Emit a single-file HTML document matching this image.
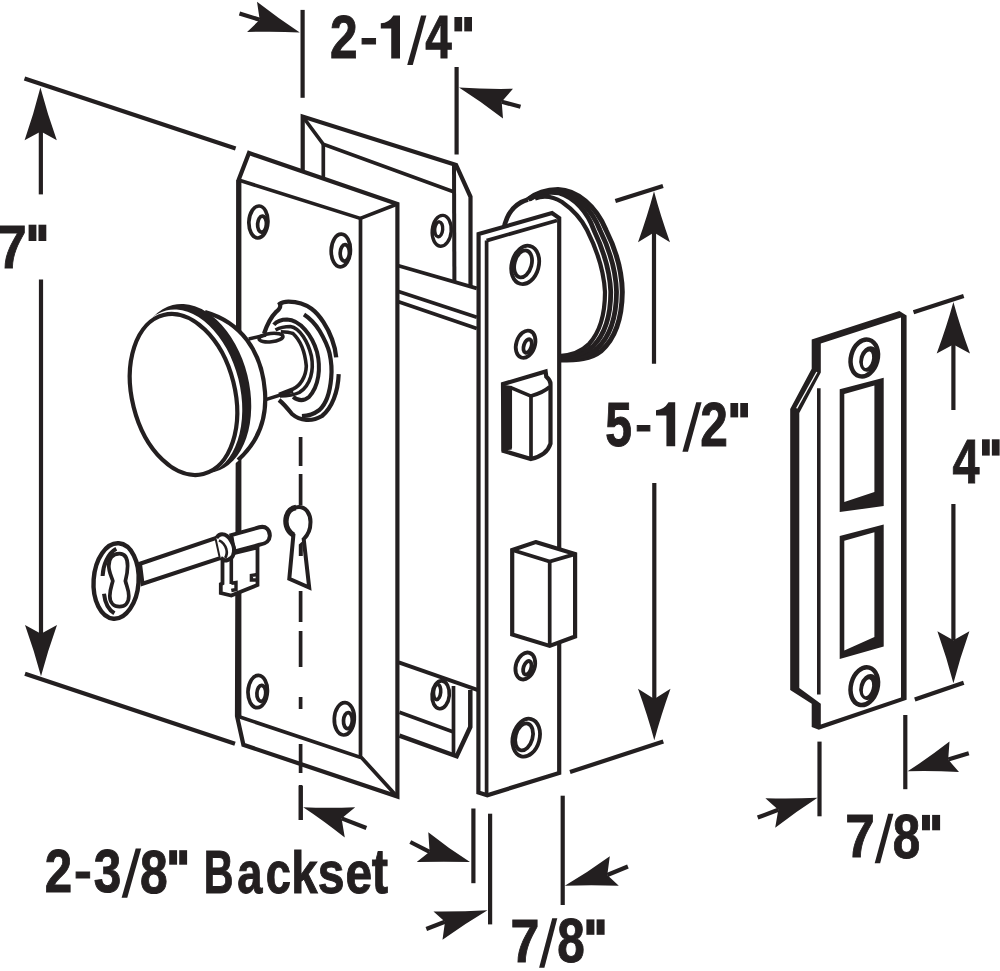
<!DOCTYPE html>
<html><head><meta charset="utf-8"><style>
html,body{margin:0;padding:0;background:#fff;overflow:hidden;}
svg{display:block;}
text{font-family:"Liberation Sans",sans-serif;font-weight:bold;}
</style></head><body>
<svg width="1000" height="971" viewBox="0 0 1000 971" stroke="#231f20" fill="none" stroke-linejoin="miter" stroke-linecap="butt">
<path d="M503.7,229 C507,212 516,203 528,199.5 C536,193 546,189.5 558,189.5 C577,190 596,206 606,230 C617,252 622,272 622.3,292 C622,318 616,338 601,351 C591,359 578,360 559,360 L559,362 L540,300 Z" fill="#fff" stroke-width="0" stroke="none"/>
<path d="M503.7,229 C507,212 516,203 528,199.5" fill="none" stroke-width="4.6" />
<path d="M528,199.5 C536,193 546,189.5 558,189.5 C577,190 596,206 606,230 C617,252 622,272 622.3,292 C622,318 616,338 601,351 C591,359 578,360 559,360" fill="none" stroke-width="5.0" />
<path d="M528.56,199.42 C536.56,193.2 546.7,190.2 558.56,191.25 C576,193.8 591.8,209.36 599.92,230 C610.33,251.33 616,272 616.53,292 C616.33,317 610.67,336 597,348.67 C587.67,356.67 576,358.5 559,358.67" fill="none" stroke-width="4.8" />
<path d="M529.4,199.3 C537.4,193.5 547.54,191.04 559.12,193 C575,197.6 587.75,212.6 593.84,230 C603.67,250.67 610,272 610.77,292 C610.67,316 605.33,334 593,346.33 C584.33,354.33 574,357 559,357.33" fill="none" stroke-width="4.8" />
<path d="M535,198.5 C543,195.5 553,196.5 562,202 C572,209 581,218 587,230 C597,250 604,272 605,292 C605,315 600,332 589,344 C581,352 572,355.5 559,356" fill="none" stroke-width="4.2" />
<polygon points="302.7,116.5 456.1,164.9 470.5,196.8 470.5,760 399,760 399,171 302.7,171" fill="#fff" stroke-width="3.4" stroke="none"/>
<polyline points="302.7,172 302.7,116.5 456.1,164.9 470.5,196.8 470.5,290" fill="none" stroke-width="4.2" />
<polyline points="302.7,116.5 323.3,144.3 453.5,191.8" fill="none" stroke-width="3.7" />
<line x1="454" y1="165" x2="454.4" y2="282" stroke-width="4.0" stroke-linecap="butt"/>
<line x1="323.3" y1="144.3" x2="323.3" y2="181" stroke-width="3.7" stroke-linecap="butt"/>
<ellipse cx="441.7" cy="230.8" rx="9.5" ry="15.5" transform="rotate(5 441.7 230.8)" fill="#fff" stroke-width="3.4" />
<ellipse cx="438.7" cy="229.3" rx="4" ry="7.5" transform="rotate(5 438.7 229.3)" fill="#fff" stroke-width="3.4" />
<polyline points="399.4,735.7 456.7,756.3 470.3,727 470.3,690" fill="none" stroke-width="4.5" />
<polyline points="399.4,712.3 453.5,732" fill="none" stroke-width="3.7" />
<line x1="453.5" y1="686" x2="453.5" y2="755" stroke-width="3.7" stroke-linecap="butt"/>
<ellipse cx="440.7" cy="694.8" rx="8.6" ry="14" transform="rotate(5 440.7 694.8)" fill="#fff" stroke-width="3.6" />
<ellipse cx="437.1" cy="692" rx="3.6" ry="7.6" transform="rotate(5 437.1 692)" fill="#fff" stroke-width="3.6" />
<polygon points="398.5,265.7 476.8,288.4 480.2,690.8 398.7,662.4" fill="#fff" stroke-width="3.4" stroke="none"/>
<line x1="398.5" y1="265.7" x2="476.8" y2="288.4" stroke-width="3.7" stroke-linecap="butt"/>
<line x1="398.5" y1="291.5" x2="476.8" y2="317.2" stroke-width="3.7" stroke-linecap="butt"/>
<line x1="398.5" y1="301.8" x2="476.8" y2="328.6" stroke-width="3.7" stroke-linecap="butt"/>
<line x1="398.7" y1="662.4" x2="480.2" y2="690.8" stroke-width="4.0" stroke-linecap="butt"/>
<polygon points="478.6,234.1 552,213 559.2,218.1 559.2,773 487.3,795.2 478.4,792.4" fill="#fff" stroke-width="4.2" />
<line x1="486.6" y1="240.6" x2="486.6" y2="795" stroke-width="3.7" stroke-linecap="butt"/>
<line x1="486.6" y1="240.6" x2="557" y2="220.5" stroke-width="3.7" stroke-linecap="butt"/>
<ellipse cx="525.2" cy="264.9" rx="13.5" ry="19.5" transform="rotate(15 525.2 264.9)" fill="#fff" stroke-width="3.8" />
<ellipse cx="523.1" cy="263.9" rx="8.5" ry="13.8" transform="rotate(15 523.1 263.9)" fill="#fff" stroke-width="3.8" />
<ellipse cx="525.6" cy="344.2" rx="9.3" ry="14" transform="rotate(18 525.6 344.2)" fill="#fff" stroke-width="3.8" />
<ellipse cx="527.6" cy="346" rx="3.8" ry="7" transform="rotate(18 527.6 346)" fill="#fff" stroke-width="3.8" />
<ellipse cx="525.3" cy="666" rx="9.4" ry="13.8" transform="rotate(18 525.3 666)" fill="#fff" stroke-width="3.8" />
<ellipse cx="527.3" cy="667.8" rx="3.8" ry="7" transform="rotate(18 527.3 667.8)" fill="#fff" stroke-width="3.8" />
<ellipse cx="526.2" cy="737.7" rx="13.3" ry="19.3" transform="rotate(15 526.2 737.7)" fill="#fff" stroke-width="3.8" />
<ellipse cx="524.1" cy="736.9" rx="8.5" ry="13.8" transform="rotate(15 524.1 736.9)" fill="#fff" stroke-width="3.8" />
<path d="M503,384.1 L545.6,371.4 L546.3,376.7 C549,379 550.5,381 550.5,384 L550.5,443.7 C548,452 540,457 531,459 L503.5,451 Z" fill="#fff" stroke-width="4.2" />
<path d="M510.2,387.4 L531,396.1 C538,394 545,391 549.5,387" fill="none" stroke-width="3.7" />
<line x1="510.2" y1="387.4" x2="510.2" y2="448" stroke-width="3.7" stroke-linecap="butt"/>
<line x1="531" y1="396.1" x2="531" y2="459" stroke-width="3.7" stroke-linecap="butt"/>
<polygon points="501.5,384.5 511.8,386 511.8,449.5 501.5,451" fill="#231f20" stroke="none"/>
<polygon points="535.6,542.1 575.1,554.1 575.1,636.5 549.7,645.9 512.2,634.5 512.2,550.1" fill="#fff" stroke-width="4.2" />
<polyline points="512.2,550.1 549.7,561.5 575.1,554.1" fill="none" stroke-width="3.7" />
<line x1="549.7" y1="561.5" x2="549.7" y2="645.9" stroke-width="3.7" stroke-linecap="butt"/>
<polygon points="249,153 397.4,204 397.4,796.5 243.4,744.8 237,716 238.6,180" fill="#fff" stroke-width="4.2" />
<line x1="238.8" y1="180" x2="238.8" y2="716" stroke-width="5.2" stroke-linecap="butt"/>
<polyline points="238.6,180 360.3,218.4 397.4,204" fill="none" stroke-width="3.7" />
<line x1="360.5" y1="218.4" x2="360.5" y2="757.8" stroke-width="3.7" stroke-linecap="butt"/>
<polyline points="237,716 361.7,757.8 397,796.5" fill="none" stroke-width="3.7" />
<ellipse cx="258.4" cy="222" rx="9.5" ry="16" transform="rotate(3 258.4 222)" fill="#fff" stroke-width="3.7" />
<ellipse cx="262" cy="224.2" rx="4.4" ry="8" transform="rotate(3 262 224.2)" fill="#fff" stroke-width="3.7" />
<ellipse cx="340.8" cy="250.5" rx="9.6" ry="16.3" transform="rotate(2 340.8 250.5)" fill="#fff" stroke-width="3.7" />
<ellipse cx="344.8" cy="252.9" rx="4.6" ry="8.2" transform="rotate(2 344.8 252.9)" fill="#fff" stroke-width="3.7" />
<ellipse cx="257.7" cy="691.5" rx="9.7" ry="16.2" transform="rotate(3 257.7 691.5)" fill="#fff" stroke-width="3.7" />
<ellipse cx="261.3" cy="693.3" rx="4.4" ry="8" transform="rotate(3 261.3 693.3)" fill="#fff" stroke-width="3.7" />
<ellipse cx="344.3" cy="718.8" rx="10" ry="16.2" transform="rotate(3 344.3 718.8)" fill="#fff" stroke-width="3.7" />
<ellipse cx="347.9" cy="720.6" rx="4.4" ry="8" transform="rotate(3 347.9 720.6)" fill="#fff" stroke-width="3.7" />
<line x1="300.6" y1="437" x2="300.6" y2="466" stroke-width="3.7" stroke-linecap="butt"/>
<line x1="300.6" y1="474" x2="300.6" y2="505" stroke-width="3.7" stroke-linecap="butt"/>
<line x1="300.6" y1="591" x2="300.6" y2="622" stroke-width="3.7" stroke-linecap="butt"/>
<line x1="300.6" y1="631" x2="300.6" y2="667" stroke-width="3.7" stroke-linecap="butt"/>
<line x1="300.6" y1="697" x2="300.6" y2="709" stroke-width="3.7" stroke-linecap="butt"/>
<line x1="300.6" y1="744" x2="300.6" y2="773" stroke-width="3.7" stroke-linecap="butt"/>
<line x1="300.6" y1="785" x2="300.6" y2="820" stroke-width="3.7" stroke-linecap="butt"/>
<path d="M293.4,535 C286,530 285,522 286.7,516 C288,510 293,507 299,507 C306,507 310.5,514 310.5,522 C310.5,530 307,536 303.7,539.1 L309.2,587.5 L289.3,578.8 Z" fill="#fff" stroke-width="4" />
<path d="M293.4,535 C286,530 285,522 286.7,516 C288,511 292,508 296,507.5" fill="none" stroke-width="5.5" />
<polygon points="302.8,541 298.8,544.5 298.8,556 302.8,556" fill="#231f20" stroke="none"/>
<path d="M264.1,333.5 C268,322 272,316 276,312 C280,309 281,306 279.9,303.8 C283,301.5 286,301.6 288.6,301.6 C298,301.8 305,304 311.5,308.7 C320,315 328,328 332,339.2 C334.5,346 335.8,352 336.2,357.3 L338.7,374.2 C338,392 332,408 322,416 C312,422 300,421 292,414 C288,409 284,404 279,400 Z" fill="#fff" stroke-width="0" stroke="none"/>
<path d="M264.1,333.5 C268,322 272,316 276,312 C280,309 281,306 279.9,303.8 C283,301.5 286,301.6 288.6,301.6 C298,301.8 305,304 311.5,308.7 C320,315 328,328 332,339.2 C334.5,346 335.8,352 336.2,357.3" fill="none" stroke-width="4.3" />
<path d="M304,314.5 C311,319 316,325 319.7,331 C325,340 328,347 329.5,353 C331.5,362 331.8,372 331.2,378 C330,392 326,404 319.4,410 C314,414 308,416 301.9,416.2" fill="none" stroke-width="4.2" />
<path d="M338.7,374.2 C338,392 332,408 322,416 C312,422 300,421 292,414 C288,409 284,404 279,400" fill="none" stroke-width="4.2" />
<path d="M273.8,324.8 C278,320 283,319.5 287,319.5 C300,320 312,335 317,352 C321,368 319,386 309,397 C303,402 297,400 293.1,396.9" fill="none" stroke-width="4" />
<path d="M275.5,330 C281,327 286,326.5 290.4,326.5 C300,328 308,342 311.4,356 C314,370 311,385 299.3,392.5 C292,396 285,396 280,396" fill="none" stroke-width="3.6" />
<polygon points="248.7,339 264.4,335.2 283,333 300,345 306,366 300,384 293,389 265.7,399.4 250,420" fill="#fff" stroke-width="3.4" stroke="none"/>
<path d="M280.8,331.8 C286,332 290,332.5 293,333.5 C300,340 305,352 306.3,366 C306,377 300,386 293,389 L279,394.5" fill="none" stroke-width="3.6" />
<line x1="248.7" y1="339" x2="266" y2="335" stroke-width="3.4" stroke-linecap="butt"/>
<line x1="265.7" y1="399.6" x2="293" y2="391" stroke-width="3.6" stroke-linecap="butt"/>
<ellipse cx="271" cy="337.6" rx="12" ry="4.2" transform="rotate(-6 271 337.6)" fill="none" stroke-width="3.6" />
<path d="M205,312 C240,322 262,350 265,392 C267,425 255,448 232,466 L190,394 Z" fill="#fff" stroke-width="0" stroke="none"/>
<path d="M205,312 C240,322 262,350 265,392 C267,420 257,443 238,460" fill="none" stroke-width="4.2" />
<ellipse cx="193.5" cy="388.5" rx="55.5" ry="86" transform="rotate(-14 193.5 388.5)" fill="#231f20" stroke-width="0" stroke="none"/>
<ellipse cx="186.5" cy="392" rx="53.5" ry="84.1" transform="rotate(-14 186.5 392)" fill="#fff" stroke-width="0" stroke="none"/>
<ellipse cx="183.5" cy="394.5" rx="51.4" ry="82" transform="rotate(-14 183.5 394.5)" fill="#fff" stroke-width="4.2" />
<ellipse cx="116.1" cy="581" rx="22.5" ry="37.8" transform="rotate(4 116.1 581)" fill="#fff" stroke-width="4.4" />
<path d="M119.5,553.6 C112.5,553.6 108.8,558 108.8,566 C108.8,572 111.5,576.5 112.8,581 C111.5,586 109.8,590 109.8,596 C109.8,603 114,606.6 119.5,606.6 C125,606.6 128.8,603 128.8,596 C128.8,590 126.6,586 125.4,581 C126.6,576.5 127.6,572 127.6,566 C127.6,558 125.5,553.6 119.5,553.6 Z" fill="#fff" stroke-width="3.7" />
<path d="M116.3,548.7 C108,553 103,565 102.6,576" fill="none" stroke-width="4" />
<path d="M104,593.7 C105,603 109,610 114.4,613.3" fill="none" stroke-width="4" />
<path d="M222.5,556 L222.5,583.3 L220.8,584.2 L220.8,593 L231.3,595.6 L257.5,585 L257.5,547.4 Z" fill="#fff" stroke-width="3.8" />
<line x1="231.3" y1="558" x2="231.3" y2="584" stroke-width="3.6" stroke-linecap="butt"/>
<polyline points="257.5,574.5 251.4,575.4 251.4,580 257.5,580" fill="none" stroke-width="3.4" />
<polyline points="231.3,583.3 236,582.5 236,589.5 231.3,590.5" fill="none" stroke-width="3.4" />
<path d="M231.3,535.1 L259.3,527.3 C266,525.5 270,530 269.8,536 C269.5,541 265,544 259.3,544.8 L233.9,551.8 Z" fill="#fff" stroke-width="4" />
<polygon points="140,563.75 216.4,537.8 220.8,557.9 142.5,583.75" fill="#fff" stroke-width="4" />
<path d="M216.4,537.8 C218,535.5 220,534.3 222,534.3 C226,534.3 229,537 231.3,541.3 C233.5,545 234.3,550 233.9,552 C233.5,555 232.5,557 231,558 C229,560 227,560.5 224.5,560.5 L220.8,557.9 Z" fill="#fff" stroke-width="0" stroke="none"/>
<path d="M216.4,537.8 C218,535.5 220,534.3 222,534.3 C226,534.3 229,537 231.3,541.3 C233.5,545 234.3,550 233.9,552 C233.5,555 232.5,557 231,558 C229,560 227,560.5 224.5,560.5 L220.8,557.9" fill="none" stroke-width="4" />
<path d="M219,540.4 C222.5,542 225,545 226.3,549 C227.3,552.5 226.8,555.5 225.1,557.9" fill="none" stroke-width="2.6" />
<path d="M811.7,339.5 L899.4,310.9 L906.6,315.4 L906.6,699.8 L818.8,729.7 L811.7,727.1 L811.7,703.7 L790.2,690 L790.2,409 L811.7,368.7 Z" fill="#fff" stroke-width="0" stroke="none"/>
<path d="M811.7,339.5 L899.4,310.9 L906.6,315.4 L906.6,699.8 L818.8,729.7 L811.7,727.1 L811.7,703.7 L790.2,690 L790.2,409 L811.7,368.7 Z M820.8,343.5 L901,317.5 L901,697.4 L820.8,724.5 L820.8,703.7 L799.3,688 L799.3,412.9 L820.8,372.6 Z" fill="#231f20" stroke-width="0" stroke="none" fill-rule="evenodd"/>
<line x1="816.9" y1="372" x2="796.7" y2="408.4" stroke-width="1.3" stroke-linecap="butt"/>
<line x1="816.9" y1="372" x2="796.7" y2="408.4" stroke="#fff" stroke-width="1.3"/>
<line x1="818.8" y1="388.2" x2="818.8" y2="694.6" stroke-width="3.6" stroke-linecap="butt"/>
<path d="M839.7,389.3 L883.7,377.7 L883.7,506 L839.7,512.1 Z M844.3,394 L874.4,385.4 L874.4,492 L844.3,502.1 Z" fill="#231f20" stroke-width="0" stroke="none" fill-rule="evenodd"/>
<path d="M839.7,536 L883.7,524.5 L883.7,646.5 L839.7,658.9 Z M844.3,540.7 L874.4,532.2 L874.4,637 L844.3,650.4 Z" fill="#231f20" stroke-width="0" stroke="none" fill-rule="evenodd"/>
<ellipse cx="864.3" cy="358" rx="13.3" ry="18.8" transform="rotate(15 864.3 358)" fill="#fff" stroke-width="4.5" />
<ellipse cx="869" cy="359" rx="9.5" ry="13" transform="rotate(15 869 359)" fill="#231f20" stroke-width="0" stroke="none"/>
<ellipse cx="867.5" cy="359.8" rx="4.2" ry="8.5" transform="rotate(15 867.5 359.8)" fill="#fff" stroke-width="0" stroke="none"/>
<ellipse cx="864.3" cy="686.2" rx="13.3" ry="19.2" transform="rotate(15 864.3 686.2)" fill="#fff" stroke-width="4.5" />
<ellipse cx="869" cy="687" rx="9.5" ry="13.2" transform="rotate(15 869 687)" fill="#231f20" stroke-width="0" stroke="none"/>
<ellipse cx="867.5" cy="687.8" rx="4.2" ry="8.7" transform="rotate(15 867.5 687.8)" fill="#fff" stroke-width="0" stroke="none"/>
<line x1="24.5" y1="78.5" x2="235.6" y2="148.6" stroke-width="4.2" stroke-linecap="butt"/>
<path d="M40.4,87.5 Q33.96,113.12 24.6,140.3 Q32.73,135.95 40.85,131.6 Q48.83,135.95 56.8,140.3 Q47.16,113.12 40.4,87.5 Z" fill="#231f20" stroke="none"/>
<line x1="40.85" y1="131" x2="40.85" y2="194.4" stroke-width="4.2" stroke-linecap="butt"/>
<line x1="41" y1="279.6" x2="41" y2="634" stroke-width="4.2" stroke-linecap="butt"/>
<path d="M41,676.25 Q34.44,651.41 25,625 Q33,629.38 41,633.75 Q49,629.38 57,625 Q47.56,651.41 41,676.25 Z" fill="#231f20" stroke="none"/>
<line x1="25" y1="673.75" x2="235" y2="743.75" stroke-width="4.2" stroke-linecap="butt"/>
<line x1="302.6" y1="9.9" x2="302.6" y2="97.8" stroke-width="4.2" stroke-linecap="butt"/>
<path d="M299.8,32.4 Q278.64,18.72 257,1.8 Q258.35,10.8 259.7,19.8 Q253.4,25.9 247.1,32 Q274.58,31.1 299.8,32.4 Z" fill="#231f20" stroke="none"/>
<line x1="239.5" y1="13.5" x2="259.7" y2="19.8" stroke-width="4.2" stroke-linecap="butt"/>
<line x1="456.6" y1="67" x2="456.6" y2="154.5" stroke-width="4.2" stroke-linecap="butt"/>
<path d="M459,87.5 Q484.98,89.31 513,88.8 Q507.35,95.25 501.7,101.7 Q502.35,110.05 503,118.4 Q480.88,101.45 459,87.5 Z" fill="#231f20" stroke="none"/>
<line x1="501.7" y1="101.7" x2="520.5" y2="106.8" stroke-width="4.2" stroke-linecap="butt"/>
<line x1="615.4" y1="201" x2="663" y2="186" stroke-width="4.2" stroke-linecap="butt"/>
<path d="M654,191.2 Q647.44,215.82 638,242.2 Q646,237.3 654,232.4 Q662,237.3 670,242.2 Q660.56,215.82 654,191.2 Z" fill="#231f20" stroke="none"/>
<line x1="654" y1="232" x2="654" y2="363.7" stroke-width="4.2" stroke-linecap="butt"/>
<line x1="654.3" y1="483" x2="654.3" y2="699" stroke-width="4.2" stroke-linecap="butt"/>
<path d="M654.3,740.3 Q647.62,715.47 638,688.8 Q646.15,693.9 654.3,699 Q662.4,693.9 670.5,688.8 Q660.94,715.47 654.3,740.3 Z" fill="#231f20" stroke="none"/>
<line x1="570" y1="772" x2="663.3" y2="741.6" stroke-width="4.2" stroke-linecap="butt"/>
<line x1="913.5" y1="312.2" x2="963.7" y2="296" stroke-width="4.2" stroke-linecap="butt"/>
<path d="M953.4,301.9 Q946.55,326.84 936.7,353.4 Q945.05,348.9 953.4,344.4 Q961.7,348.9 970,353.4 Q960.21,326.84 953.4,301.9 Z" fill="#231f20" stroke="none"/>
<line x1="953.4" y1="344" x2="953.4" y2="410" stroke-width="4.2" stroke-linecap="butt"/>
<line x1="953.4" y1="504" x2="953.4" y2="640" stroke-width="4.2" stroke-linecap="butt"/>
<path d="M953.4,683.3 Q946.84,658.11 937.4,631.3 Q945.4,635.8 953.4,640.3 Q961.4,635.8 969.4,631.3 Q959.96,658.11 953.4,683.3 Z" fill="#231f20" stroke="none"/>
<line x1="914.8" y1="699.5" x2="963.7" y2="682.8" stroke-width="4.2" stroke-linecap="butt"/>
<line x1="819.5" y1="741.6" x2="819.5" y2="816.3" stroke-width="4.2" stroke-linecap="butt"/>
<line x1="905.3" y1="715" x2="905.3" y2="789.2" stroke-width="4.2" stroke-linecap="butt"/>
<path d="M817.5,797.7 Q792.61,798.99 765.4,798.2 Q771.85,804 778.3,809.8 Q776.75,818.8 775.2,827.8 Q796.63,811.13 817.5,797.7 Z" fill="#231f20" stroke="none"/>
<line x1="757.7" y1="817.5" x2="778.3" y2="809.8" stroke-width="4.2" stroke-linecap="butt"/>
<path d="M907.6,771.2 Q928.43,758.02 949.5,741.6 Q948.85,750.6 948.2,759.6 Q953.6,765.8 959,772 Q932.33,770.48 907.6,771.2 Z" fill="#231f20" stroke="none"/>
<line x1="948.2" y1="759.6" x2="968.8" y2="753.2" stroke-width="4.2" stroke-linecap="butt"/>
<line x1="300.8" y1="786" x2="300.8" y2="820" stroke-width="4.2" stroke-linecap="butt"/>
<path d="M303.2,807.2 Q327.98,808.21 355.2,807.2 Q348.4,812.8 341.6,818.4 Q343.2,828 344.8,837.6 Q323.71,820.67 303.2,807.2 Z" fill="#231f20" stroke="none"/>
<line x1="341.6" y1="818.4" x2="366.4" y2="828" stroke-width="4.2" stroke-linecap="butt"/>
<line x1="473.4" y1="808.5" x2="473.4" y2="883.2" stroke-width="4.2" stroke-linecap="butt"/>
<line x1="490.1" y1="813.7" x2="490.1" y2="924.4" stroke-width="4.2" stroke-linecap="butt"/>
<line x1="562.7" y1="795.7" x2="562.7" y2="905" stroke-width="4.2" stroke-linecap="butt"/>
<path d="M470,862.1 Q449.27,848.91 428.3,832.2 Q428.95,842 429.6,851.8 Q423.15,856.95 416.7,862.1 Q444.51,861.17 470,862.1 Z" fill="#231f20" stroke="none"/>
<line x1="410.3" y1="842" x2="429.6" y2="851.8" stroke-width="4.2" stroke-linecap="butt"/>
<path d="M487.5,910.2 Q461.54,911.78 433.5,911.5 Q439.25,916.65 445,921.8 Q443.75,930.8 442.5,939.8 Q465.23,923.38 487.5,910.2 Z" fill="#231f20" stroke="none"/>
<line x1="426.3" y1="929" x2="445" y2="921.8" stroke-width="4.2" stroke-linecap="butt"/>
<path d="M564.8,885.8 Q587.07,872.69 609.8,856.2 Q608.55,865.6 607.3,875 Q613.05,880.4 618.8,885.8 Q590.76,884.83 564.8,885.8 Z" fill="#231f20" stroke="none"/>
<line x1="607.3" y1="875" x2="627.9" y2="866.5" stroke-width="4.2" stroke-linecap="butt"/>
<text transform="translate(329.93 58.15) scale(0.02424 0.02958)" font-size="2048" fill="#231f20" stroke="#231f20" stroke-width="0.9" vector-effect="non-scaling-stroke">2</text>
<text transform="translate(359.97 52.97) scale(0.02596 0.02254)" font-size="2048" fill="#231f20" stroke="#231f20" stroke-width="0.9" vector-effect="non-scaling-stroke">-</text>
<path d="M393.36,15.4 L400,15.4 L400,58.6 L391.23,58.6 L391.23,28.4 L380.8,28.4 L380.8,23.31 Q388.86,22.74 393.36,15.4 Z" fill="#231f20" stroke="none"/>
<polygon points="407.2,65 412.77,65 426.4,15.4 421.02,15.4" fill="#231f20" stroke="none"/>
<text transform="translate(425.33 58.15) scale(0.02325 0.03002)" font-size="2048" fill="#231f20" stroke="#231f20" stroke-width="0.9" vector-effect="non-scaling-stroke">4</text>
<rect x="454.4" y="17" width="7.74" height="14.4" fill="#231f20" stroke="none"/>
<rect x="464.26" y="17" width="7.74" height="14.4" fill="#231f20" stroke="none"/>
<text transform="translate(605.37 445.54) scale(0.02345 0.03044)" font-size="2048" fill="#231f20" stroke="#231f20" stroke-width="0.9" vector-effect="non-scaling-stroke">5</text>
<text transform="translate(635.3 439.77) scale(0.02442 0.02254)" font-size="2048" fill="#231f20" stroke="#231f20" stroke-width="0.9" vector-effect="non-scaling-stroke">-</text>
<path d="M668.56,402.2 L675.2,402.2 L675.2,446.2 L666.43,446.2 L666.43,415.44 L656,415.44 L656,410.25 Q664.06,409.68 668.56,402.2 Z" fill="#231f20" stroke="none"/>
<polygon points="682.4,451.8 687.97,451.8 701.6,402.2 696.22,402.2" fill="#231f20" stroke="none"/>
<text transform="translate(700.33 445.75) scale(0.02424 0.03056)" font-size="2048" fill="#231f20" stroke="#231f20" stroke-width="0.9" vector-effect="non-scaling-stroke">2</text>
<rect x="730.4" y="403" width="7.74" height="14.4" fill="#231f20" stroke="none"/>
<rect x="740.26" y="403" width="7.74" height="14.4" fill="#231f20" stroke="none"/>
<text transform="translate(952.42 482.75) scale(0.02370 0.03052)" font-size="2048" fill="#231f20" stroke="#231f20" stroke-width="0.9" vector-effect="non-scaling-stroke">4</text>
<rect x="982" y="439.3" width="7.74" height="16.3" fill="#231f20" stroke="none"/>
<rect x="991.86" y="439.3" width="7.74" height="16.3" fill="#231f20" stroke="none"/>
<text transform="translate(845.37 857.35) scale(0.02591 0.03016)" font-size="2048" fill="#231f20" stroke="#231f20" stroke-width="0.9" vector-effect="non-scaling-stroke">7</text>
<polygon points="874.7,863.3 880.12,863.3 893.4,813.8 888.16,813.8" fill="#231f20" stroke="none"/>
<text transform="translate(892.78 857.84) scale(0.02413 0.03062)" font-size="2048" fill="#231f20" stroke="#231f20" stroke-width="0.9" vector-effect="non-scaling-stroke">8</text>
<rect x="922" y="814.9" width="7.96" height="15.4" fill="#231f20" stroke="none"/>
<rect x="932.14" y="814.9" width="7.96" height="15.4" fill="#231f20" stroke="none"/>
<text transform="translate(510.42 961.85) scale(0.02539 0.02981)" font-size="2048" fill="#231f20" stroke="#231f20" stroke-width="0.9" vector-effect="non-scaling-stroke">7</text>
<polygon points="539.1,967.8 544.38,967.8 557.3,918.3 552.2,918.3" fill="#231f20" stroke="none"/>
<text transform="translate(557.28 962.34) scale(0.02413 0.03028)" font-size="2048" fill="#231f20" stroke="#231f20" stroke-width="0.9" vector-effect="non-scaling-stroke">8</text>
<rect x="586.4" y="919.4" width="8.01" height="15.4" fill="#231f20" stroke="none"/>
<rect x="596.59" y="919.4" width="8.01" height="15.4" fill="#231f20" stroke="none"/>
<text transform="translate(44.74 892.25) scale(0.02404 0.02965)" font-size="2048" fill="#231f20" stroke="#231f20" stroke-width="0.9" vector-effect="non-scaling-stroke">2</text>
<text transform="translate(74.06 887.74) scale(0.02615 0.02418)" font-size="2048" fill="#231f20" stroke="#231f20" stroke-width="0.9" vector-effect="non-scaling-stroke">-</text>
<text transform="translate(93.71 892.46) scale(0.02417 0.02994)" font-size="2048" fill="#231f20" stroke="#231f20" stroke-width="0.9" vector-effect="non-scaling-stroke">3</text>
<polygon points="121.6,897.8 127.28,897.8 141.2,848.5 135.71,848.5" fill="#231f20" stroke="none"/>
<text transform="translate(140.07 892.55) scale(0.02433 0.03000)" font-size="2048" fill="#231f20" stroke="#231f20" stroke-width="0.9" vector-effect="non-scaling-stroke">8</text>
<rect x="169.2" y="850.2" width="7.88" height="14.5" fill="#231f20" stroke="none"/>
<rect x="179.22" y="850.2" width="7.88" height="14.5" fill="#231f20" stroke="none"/>
<text transform="translate(203.7 892.55) scale(0.02010 0.02988)" font-size="2048" fill="#231f20" stroke="#231f20" stroke-width="0.9" vector-effect="non-scaling-stroke">B</text>
<text transform="translate(237.13 892.98) scale(0.02207 0.02861)" font-size="2048" fill="#231f20" stroke="#231f20" stroke-width="0.9" vector-effect="non-scaling-stroke">a</text>
<text transform="translate(265.68 892.98) scale(0.02212 0.02861)" font-size="2048" fill="#231f20" stroke="#231f20" stroke-width="0.9" vector-effect="non-scaling-stroke">c</text>
<text transform="translate(291.14 892.55) scale(0.02315 0.02904)" font-size="2048" fill="#231f20" stroke="#231f20" stroke-width="0.9" vector-effect="non-scaling-stroke">k</text>
<text transform="translate(317.76 892.98) scale(0.02350 0.02858)" font-size="2048" fill="#231f20" stroke="#231f20" stroke-width="0.9" vector-effect="non-scaling-stroke">s</text>
<text transform="translate(345.58 892.98) scale(0.02336 0.02861)" font-size="2048" fill="#231f20" stroke="#231f20" stroke-width="0.9" vector-effect="non-scaling-stroke">e</text>
<text transform="translate(371.85 893) scale(0.02389 0.03035)" font-size="2048" fill="#231f20" stroke="#231f20" stroke-width="0.9" vector-effect="non-scaling-stroke">t</text>
<text transform="translate(-2.6 267.55) scale(0.02560 0.03009)" font-size="2048" fill="#231f20" stroke="#231f20" stroke-width="0.9" vector-effect="non-scaling-stroke">7</text>
<rect x="28.6" y="224.7" width="7.79" height="16.3" fill="#231f20" stroke="none"/>
<rect x="38.51" y="224.7" width="7.79" height="16.3" fill="#231f20" stroke="none"/>
</svg>
</body></html>
